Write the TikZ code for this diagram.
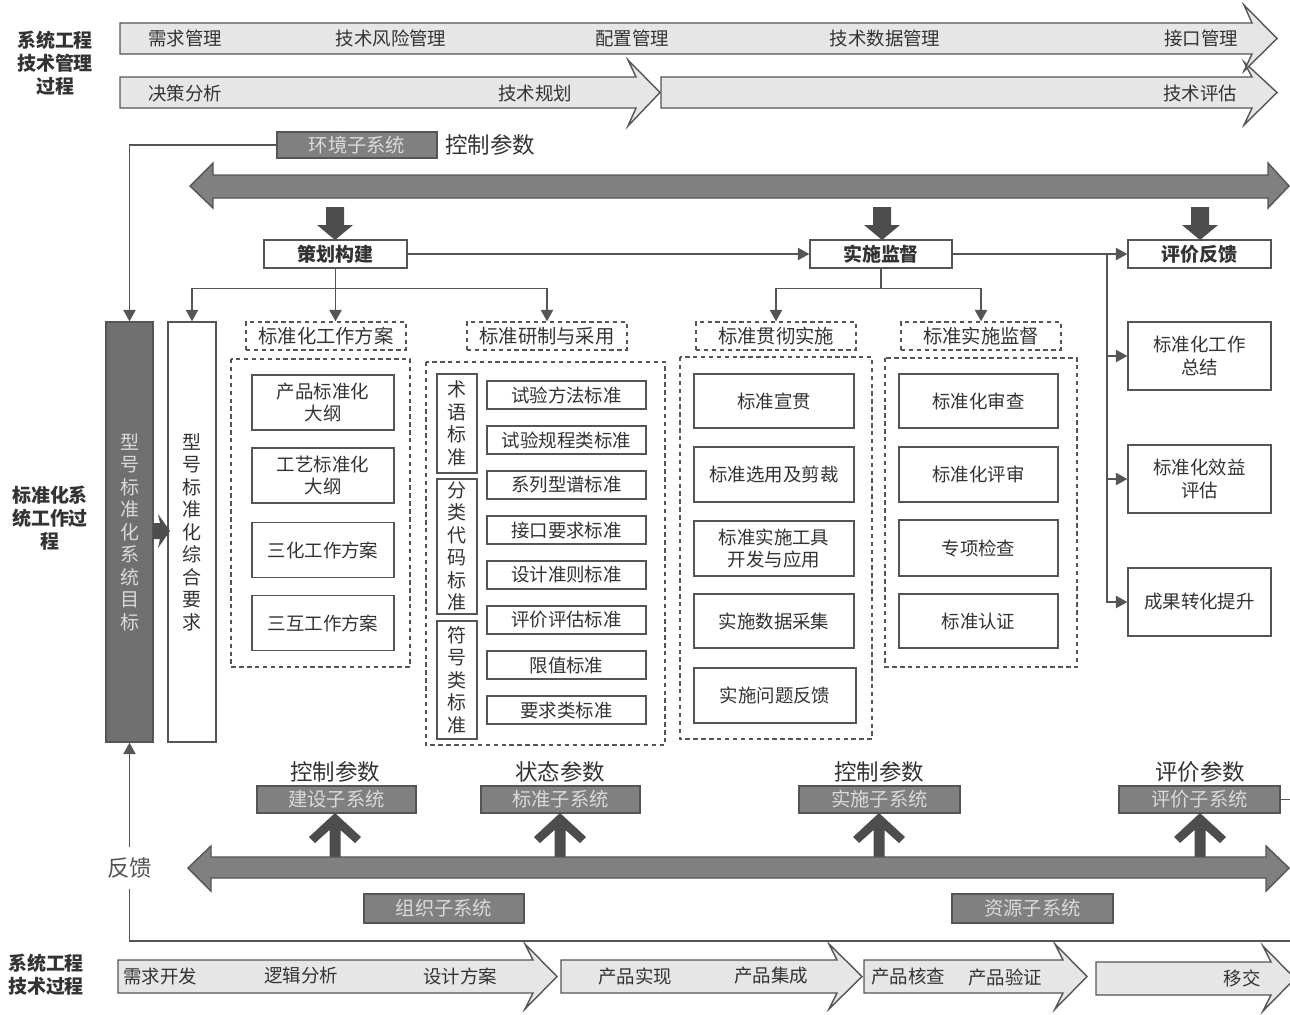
\documentclass[tikz,border=0pt]{standalone}
\usepackage{fontspec}
\setmainfont{Noto Sans CJK SC}
\usepackage{tikz}
\usetikzlibrary{arrows.meta}
\definecolor{linegray}{HTML}{555555}
\definecolor{textgray}{HTML}{333333}
\definecolor{lightfill}{HTML}{E6E6E6}
\definecolor{midfill}{HTML}{808080}
\definecolor{darkfill}{HTML}{4D4D4D}
\definecolor{goalfill}{HTML}{707070}
\definecolor{subtext}{HTML}{DADADA}
\newcommand{\pxunit}{0.02cm}
\newcommand{\boxfont}{\fontsize{10.5}{13}\selectfont}
\newcommand{\labelfont}{\fontsize{11}{13}\selectfont}
\newcommand{\paramfont}{\fontsize{12.8}{15}\selectfont}
\newcommand{\sidefont}{\fontsize{10.8}{13}\selectfont\bfseries}
\newcommand{\vertfont}{\fontsize{10.8}{12.8}\selectfont}
% body start, body end, tip, body top, body bottom, head top, head bottom
\newcommand{\procarrow}[7]{\filldraw[draw=linegray, fill=lightfill, line width=0.8pt]
    (#1,#4) -- (#2,#4) -- ({#2-8},#6) -- (#3,{(#4+#5)/2}) -- ({#2-8},#7) -- (#2,#5) -- (#1,#5) -- cycle;}
\tikzstyle{box}=[draw=linegray, fill=white, line width=0.8pt, inner sep=0, align=center, font=\boxfont]
\tikzstyle{stagebox}=[box, font=\sidefont]
\tikzstyle{dashlabel}=[box, dash pattern=on 2.5pt off 2pt, font=\labelfont]
\tikzstyle{dashframe}=[draw=linegray, line width=0.8pt, dash pattern=on 2.5pt off 2pt]
\tikzstyle{vbox}=[box, font=\vertfont]
\tikzstyle{subsys}=[draw=linegray, fill=midfill, line width=0.8pt, inner sep=0, text=subtext, font=\labelfont]
\tikzstyle{param}=[inner sep=0, font=\paramfont]
\tikzstyle{flowtext}=[inner sep=0, font=\boxfont]
\tikzstyle{sidelabel}=[inner sep=0, align=center, font=\sidefont]
\tikzstyle{fbtext}=[fill=white, inner xsep=2pt, inner ysep=6pt, text=linegray, font=\paramfont]
\tikzstyle{link}=[draw=linegray, line width=0.8pt, -{Triangle[length=6.5pt,width=7pt]}]
\tikzstyle{bigarrow}=[draw=linegray, fill=midfill, line width=0.8pt]
\tikzset{sized/.style 2 args={minimum width=#1*\pxunit, minimum height=#2*\pxunit}}
\tikzstyle{stdflow}=[x=\pxunit, y=-\pxunit, line join=miter,
                     every node/.style={text=textgray}]
\begin{document}
\begin{tikzpicture}[stdflow]
    \useasboundingbox[fill=white] (0,0) rectangle (1290,1014);
    % management process
    \procarrow{661}{1252}{1277}{77}{108}{62}{125}
    \procarrow{120}{636}{660}{77}{108}{60}{126}
    \procarrow{120}{1252}{1277}{23}{54}{5}{71}
    \node[sidelabel] (mgmtside) at (55,63) {系统工程\\技术管理\\过程};
    \node[flowtext] (reqmgmt) at (185,38) {需求管理};
    \node[flowtext] (riskmgmt) at (391,38) {技术风险管理};
    \node[flowtext] (cfgmgmt) at (632,38) {配置管理};
    \node[flowtext] (datamgmt) at (885,38) {技术数据管理};
    \node[flowtext] (ifmgmt) at (1201,38) {接口管理};
    \node[flowtext] (decision) at (185,93) {决策分析};
    \node[flowtext] (techplan) at (535,93) {技术规划};
    \node[flowtext] (techeval) at (1200,93) {技术评估};

    \node[subsys, sized={160}{26}] (env) at (357,145) {环境子系统};
    \node[param] (envparam) at (490,145) {控制参数};
    \filldraw[bigarrow] (190,186) -- (213,163) -- (213,175) -- (1268,175) -- (1268,163) -- (1289,186)
        -- (1268,208) -- (1268,198) -- (213,198) -- (213,208) -- cycle;
    \foreach \c in {335,882,1200}
        \fill[darkfill] ({\c-9},207) -- ({\c+9},207) -- ({\c+9},225) -- ({\c+18},225) -- (\c,240)
            -- ({\c-18},225) -- ({\c-9},225) -- cycle;

    % stages
    \node[stagebox, sized={143}{28}] (plan) at (335.5,254) {策划构建};
    \node[stagebox, sized={142}{28}] (impl) at (881,254) {实施监督};
    \node[stagebox, sized={143}{28}] (eval) at (1199.5,254) {评价反馈};
    \node[sidelabel] (stdside) at (50,518) {标准化系\\统工作过\\程};

    \node[box, fill=goalfill, text=subtext, font=\vertfont, sized={47}{420}] (goal) at (129.5,532)
        {型\\号\\标\\准\\化\\系\\统\\目\\标};
    \node[vbox, sized={48}{420}] (req) at (192,532) {型\\号\\标\\准\\化\\综\\合\\要\\求};
    \fill[darkfill] (153,523) -- (160,523) -- (158,514) -- (170,531) -- (158,548) -- (160,539) -- (153,539) -- cycle;

    \node[dashlabel, sized={160}{28}] (labA) at (326,336) {标准化工作方案};
    \node[dashlabel, sized={160}{28}] (labB) at (547,336) {标准研制与采用};
    \node[dashlabel, sized={160}{28}] (labC) at (776,336) {标准贯彻实施};
    \node[dashlabel, sized={160}{28}] (labD) at (981,336) {标准实施监督};
    \draw[dashframe] (231,359) rectangle (410,667);
    \draw[dashframe] (426,362) rectangle (665,745);
    \draw[dashframe] (680,357) rectangle (872,739);
    \draw[dashframe] (885,358) rectangle (1077,667);

    \node[box, sized={142}{55}] (prodout) at (323,402.5) {产品标准化\\大纲};
    \node[box, sized={142}{55}] (procout) at (323,475.5) {工艺标准化\\大纲};
    \node[box, sized={142}{55}] (sanhua) at (323,550) {三化工作方案};
    \node[box, sized={142}{55}] (sanhu) at (323,623) {三互工作方案};

    \node[vbox, sized={40}{99}] (termstd) at (457,423.5) {术\\语\\标\\准};
    \node[vbox, sized={40}{135}] (codestd) at (457,546.5) {分\\类\\代\\码\\标\\准};
    \node[vbox, sized={40}{118}] (symstd) at (457,680) {符\\号\\类\\标\\准};
    \node[box, sized={159}{28}] (testmeth) at (566.5,395) {试验方法标准};
    \node[box, sized={159}{28}] (testproc) at (566.5,440) {试验规程类标准};
    \node[box, sized={159}{28}] (series) at (566.5,485) {系列型谱标准};
    \node[box, sized={159}{28}] (ifreq) at (566.5,530) {接口要求标准};
    \node[box, sized={159}{28}] (design) at (566.5,575) {设计准则标准};
    \node[box, sized={159}{28}] (assessstd) at (566.5,620) {评价评估标准};
    \node[box, sized={159}{28}] (limit) at (566.5,665) {限值标准};
    \node[box, sized={159}{28}] (reqstd) at (566.5,710) {要求类标准};

    \node[box, sized={160}{54}] (promote) at (774,401) {标准宣贯};
    \node[box, sized={160}{55}] (select) at (774,474.5) {标准选用及剪裁};
    \node[box, sized={160}{55}] (tools) at (774,548.5) {标准实施工具\\开发与应用};
    \node[box, sized={160}{54}] (collect) at (774,621) {实施数据采集};
    \node[box, sized={162}{55}] (issue) at (775,695.5) {实施问题反馈};

    \node[box, sized={159}{54}] (review) at (978.5,401) {标准化审查};
    \node[box, sized={159}{55}] (appraise) at (978.5,474.5) {标准化评审};
    \node[box, sized={159}{56}] (inspect) at (978.5,548) {专项检查};
    \node[box, sized={159}{54}] (certify) at (978.5,621) {标准认证};

    \node[box, sized={143}{68}] (summary) at (1199.5,356) {标准化工作\\总结};
    \node[box, sized={143}{68}] (benefit) at (1199.5,479) {标准化效益\\评估};
    \node[box, sized={143}{68}] (transfer) at (1199.5,602) {成果转化提升};

    \draw[link] (env.west) -| (goal.north);
    \draw[link] (plan.east) -- (impl.west);
    \draw[link] (impl.east) -- (eval.west);
    \coordinate (fork) at (1107,254);
    \draw[link] (fork) |- (summary.west);
    \draw[link] (fork) |- (benefit.west);
    \draw[link] (fork) |- (transfer.west);
    \draw[link] (plan.south) -- ++(0,20) -| (req.north);
    \draw[link] (plan.south) -- (plan.south |- labA.north);
    \draw[link] (plan.south) -- ++(0,20) -| (labB.north);
    \draw[link] (impl.south) -- ++(0,20) -| (labC.north);
    \draw[link] (impl.south) -- ++(0,20) -| (labD.north);

    % subsystems
    \node[param] (buildparam) at (335,772) {控制参数};
    \node[param] (stdparam) at (560,772) {状态参数};
    \node[param] (runparam) at (879,772) {控制参数};
    \node[param] (assessparam) at (1200,772) {评价参数};
    \node[subsys, sized={159}{27}] (build) at (336.5,799.5) {建设子系统};
    \node[subsys, sized={159}{27}] (stdsys) at (560.5,799.5) {标准子系统};
    \node[subsys, sized={161}{27}] (run) at (879.5,799.5) {实施子系统};
    \node[subsys, sized={161}{27}] (assess) at (1199.5,799.5) {评价子系统};
    \foreach \c in {335,560,879,1200}
        \fill[darkfill] (\c,813) -- ({\c+26},837) -- ({\c+20},843) -- ({\c+5.5},830) -- ({\c+5.5},857)
            -- ({\c-5.5},857) -- ({\c-5.5},830) -- ({\c-20},843) -- ({\c-26},837) -- cycle;
    \filldraw[bigarrow] (188,868) -- (211,846) -- (211,857) -- (1266,857) -- (1266,846) -- (1289,868)
        -- (1266,891) -- (1266,878) -- (211,878) -- (211,891) -- cycle;
    \node[subsys, sized={160}{29}] (org) at (444,908.5) {组织子系统};
    \node[subsys, sized={161}{29}] (res) at (1032.5,908.5) {资源子系统};
    \coordinate (fbcorner) at (129.5,941);
    \draw[link] (assess.east) -- ++(20,0) |- (fbcorner) -- node[pos=0.37, fbtext] (fb) {反馈} (goal.south);

    % technical process
    \procarrow{118}{533}{557}{960}{993}{944}{1009}
    \procarrow{561}{837}{862}{960}{993}{944}{1009}
    \procarrow{864}{1063}{1087}{960}{993}{944}{1009}
    \procarrow{1096}{1271}{1295}{962}{995}{946}{1011}
    \node[sidelabel] (techside) at (46,975) {系统工程\\技术过程};
    \node[flowtext] (reqdev) at (160,976) {需求开发};
    \node[flowtext] (logic) at (301,976) {逻辑分析};
    \node[flowtext] (scheme) at (460,976) {设计方案};
    \node[flowtext] (realize) at (635,976) {产品实现};
    \node[flowtext] (integrate) at (771,976) {产品集成};
    \node[flowtext] (verify) at (908,977) {产品核查};
    \node[flowtext] (validate) at (1005,977) {产品验证};
    \node[flowtext] (handover) at (1242,978) {移交};
\end{tikzpicture}
\end{document}
